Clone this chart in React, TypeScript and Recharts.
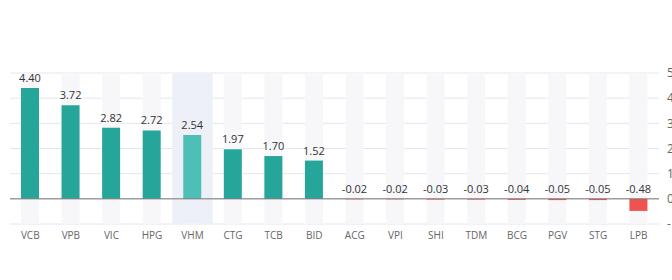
import { BarChart, Bar, Cell, XAxis, YAxis, CartesianGrid, ReferenceLine, Tooltip, LabelList } from "recharts";

const tickers = ["VCB", "VPB", "VIC", "HPG", "VHM", "CTG", "TCB", "BID", "ACG", "VPI", "SHI", "TDM", "BCG", "PGV", "STG", "LPB"];
const impact = [4.4, 3.72, 2.82, 2.72, 2.54, 1.97, 1.7, 1.52, -0.02, -0.02, -0.03, -0.03, -0.04, -0.05, -0.05, -0.48];
const yTicks = [-1, 0, 1, 2, 3, 4, 5];
const hovered = "VHM";

const data = tickers.map((name, i) => ({ name, value: impact[i] }));

const FONT = "'Open Sans', 'Noto Sans', sans-serif";

function ValueLabel(props: any) {
  const { x, y, width, height, value } = props;
  const top = Math.min(y, y + height);
  return (
    <text
      x={x + width / 2}
      y={top - 6}
      textAnchor="middle"
      fill="#333"
      fontSize={11}
      fontFamily={FONT}
    >
      {Number(value).toFixed(2)}
    </text>
  );
}

export default function App() {
  return (
    <div style={{ position: "absolute", left: 0, top: 0, width: 672, height: 280, background: "#fff" }}>
      <BarChart
        width={672}
        height={280}
        data={data}
        margin={{ top: 73, right: 0, left: 10, bottom: 26 }}
        barSize={18}
      >
        <CartesianGrid vertical={false} stroke="#e3e6f0" />
        <XAxis
          dataKey="name"
          axisLine={false}
          tickLine={false}
          tick={{ fill: "#666", fontSize: 10, fontFamily: FONT }}
          interval={0}
        />
        <YAxis
          orientation="right"
          domain={[-1, 5]}
          ticks={yTicks}
          width={13}
          axisLine={false}
          tickLine={false}
          tickSize={0}
          tickMargin={8}
          tick={{ fill: "#666", fontSize: 12, fontFamily: FONT, textAnchor: "start" }}
        />
        <Tooltip
          defaultIndex={4}
          content={() => null}
          cursor={{ fill: "#eef0f7" }}
          isAnimationActive={false}
        />
        <ReferenceLine y={0} stroke="#777" strokeWidth={1} />
        <Bar
          dataKey="value"
          isAnimationActive={false}
          background={{ fill: "#f7f7fa" }}
          activeBar={false}
        >
          {data.map((d) => (
            <Cell
              key={d.name}
              fill={d.value < 0 ? "#ef5350" : d.name === hovered ? "#4dbfb6" : "#26a69a"}
            />
          ))}
          <LabelList dataKey="value" content={ValueLabel} />
        </Bar>
      </BarChart>
    </div>
  );
}
